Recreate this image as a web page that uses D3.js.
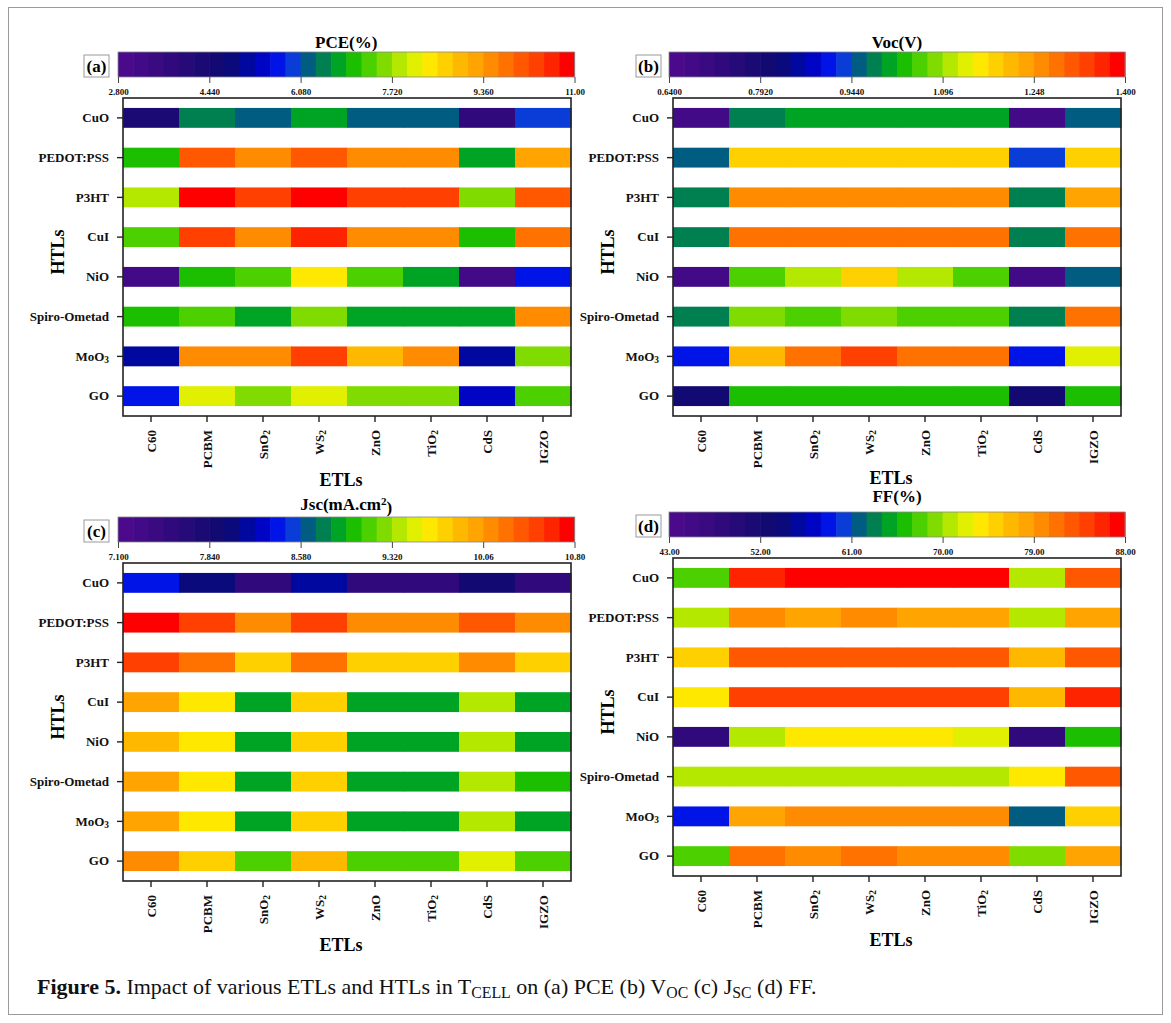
<!DOCTYPE html>
<html><head><meta charset="utf-8">
<script src="https://cdn.jsdelivr.net/npm/d3@7"></script>
<style>
body{margin:0;background:#fff}
svg text{font-family:"Liberation Serif","Times New Roman",serif}
</style>
</head><body>
<svg id="chart" width="1171" height="1023"></svg>
<script>
// ---------- DATA ----------
const htls = ["CuO","PEDOT:PSS","P3HT","CuI","NiO","Spiro-Ometad","MoO3","GO"];
const etls = ["C60","PCBM","SnO2","WS2","ZnO","TiO2","CdS","IGZO"];

// rows follow htls, columns follow etls
const pceValues = [
  [4.30, 6.49, 6.22, 6.76, 6.22, 6.22, 3.76, 5.94],
  [7.04, 10.04, 9.50, 10.04, 9.50, 9.50, 6.76, 9.22],
  [7.86, 10.86, 10.32, 10.86, 10.32, 10.32, 7.58, 10.04],
  [7.31, 10.32, 9.50, 10.59, 9.50, 9.50, 7.04, 9.77],
  [3.21, 7.04, 7.31, 8.40, 7.31, 6.76, 3.21, 5.67],
  [7.04, 7.31, 6.76, 7.58, 6.76, 6.76, 6.76, 9.50],
  [5.12, 9.50, 9.50, 10.32, 8.95, 9.50, 5.12, 7.58],
  [5.67, 8.13, 7.58, 8.13, 7.58, 7.58, 5.40, 7.31]
];
const vocValues = [
  [0.678, 0.982, 1.007, 1.007, 1.007, 1.007, 0.678, 0.957],
  [0.957, 1.185, 1.185, 1.185, 1.185, 1.185, 0.931, 1.185],
  [0.982, 1.261, 1.261, 1.261, 1.261, 1.261, 0.982, 1.235],
  [0.982, 1.286, 1.286, 1.286, 1.286, 1.286, 0.982, 1.286],
  [0.678, 1.058, 1.109, 1.185, 1.109, 1.058, 0.678, 0.957],
  [0.982, 1.083, 1.058, 1.083, 1.058, 1.058, 0.982, 1.286],
  [0.906, 1.210, 1.286, 1.337, 1.286, 1.286, 0.906, 1.134],
  [0.805, 1.033, 1.033, 1.033, 1.033, 1.033, 0.805, 1.033]
];
const jscValues = [
  [8.40, 8.03, 7.53, 8.15, 7.53, 7.53, 7.90, 7.53],
  [10.74, 10.49, 10.12, 10.49, 10.12, 10.12, 10.37, 10.12],
  [10.49, 10.25, 9.75, 10.25, 9.75, 9.75, 10.12, 9.75],
  [10.00, 9.63, 8.89, 9.75, 8.89, 8.89, 9.38, 8.89],
  [9.88, 9.63, 8.89, 9.75, 8.89, 8.89, 9.38, 8.89],
  [10.00, 9.63, 8.89, 9.75, 8.89, 8.89, 9.38, 9.01],
  [10.00, 9.63, 8.89, 9.75, 8.89, 8.89, 9.38, 8.89],
  [10.12, 9.75, 9.14, 9.88, 9.14, 9.14, 9.51, 9.14]
];
const ffValues = [
  [67.8, 85.8, 87.3, 87.3, 87.3, 87.3, 70.8, 82.8],
  [70.8, 79.8, 78.3, 79.8, 78.3, 78.3, 70.8, 78.3],
  [75.3, 82.8, 82.8, 82.8, 82.8, 82.8, 76.8, 82.8],
  [73.8, 84.3, 84.3, 84.3, 84.3, 84.3, 76.8, 85.8],
  [48.3, 70.8, 73.8, 73.8, 73.8, 72.3, 48.3, 66.3],
  [70.8, 70.8, 70.8, 70.8, 70.8, 70.8, 73.8, 82.8],
  [58.8, 78.3, 79.8, 79.8, 79.8, 79.8, 61.8, 75.3],
  [67.8, 81.3, 79.8, 81.3, 79.8, 79.8, 69.3, 78.3]
];

const pceDomain = [2.8, 11.0];
const vocDomain = [0.64, 1.40];
const jscDomain = [7.1, 10.8];
const ffDomain = [43, 88];

const pceTicks = [2.8, 4.44, 6.08, 7.72, 9.36, 11.0];
const pceTickLabels = ["2.800","4.440","6.080","7.720","9.360","11.00"];
const vocTicks = [0.64, 0.792, 0.944, 1.096, 1.248, 1.40];
const vocTickLabels = ["0.6400","0.7920","0.9440","1.096","1.248","1.400"];
const jscTicks = [7.1, 7.84, 8.58, 9.32, 10.06, 10.8];
const jscTickLabels = ["7.100","7.840","8.580","9.320","10.06","10.80"];
const ffTicks = [43, 52, 61, 70, 79, 88];
const ffTickLabels = ["43.00","52.00","61.00","70.00","79.00","88.00"];

const panelLetters = ["(a)","(b)","(c)","(d)"];
const xTitle = "ETLs";
const yTitle = "HTLs";

// 30-level rainbow palette
const palette = [
  "#4b0a8c","#420a86","#3a0a80","#300a7c","#260a78","#1c0a74","#120a72","#0a0a7c",
  "#0008a0","#0004c4","#0014e8","#0a3cd8","#005c80","#008050","#00a424","#1cbe00",
  "#4cd000","#80dc00","#b4e800","#e0f000","#ffe800","#ffd000","#ffb800","#ffa400",
  "#ff8c00","#ff7200","#ff5800","#ff4000","#ff2400","#ff0000"
];

// ---------- LAYOUT ----------
const svg = d3.select("#chart");
const FONT = '"Liberation Serif","Times New Roman",serif';

svg.append("rect").attr("x",8.5).attr("y",7.5).attr("width",1154).attr("height",1007)
  .attr("fill","none").attr("stroke","#9a9a9a").attr("stroke-width",1);

function leftLayout(dy, titleY, etlY){
  return {cbX0:118, cbX1:574.5, cbY:52+dy, cbH:25, boxX:84, boxW:25,
    titleY:titleY, fx0:123, fx1:571, fy0:98+dy, fy1:416+dy, etlY:etlY, htlX:64};
}
function rightLayout(dy, titleY, etlY){
  return {cbX0:669, cbX1:1125, cbY:52+dy, cbH:25, boxX:636, boxW:25,
    titleY:titleY, fx0:673, fx1:1121, fy0:98+dy, fy1:416+dy, etlY:etlY, htlX:614};
}

function subLabel(textSel, label){
  const m = /^([A-Za-z]+)(\d)$/.exec(label);
  textSel.text(null);
  if (m){
    textSel.append("tspan").text(m[1]);
    textSel.append("tspan").attr("dy","0.3em").attr("font-size","0.72em").text(m[2]);
  } else textSel.text(label);
}

function drawPanel(p, L){
  const g = svg.append("g");
  const n = palette.length;
  const color = d3.scaleQuantize().domain(p.domain).range(palette);
  const cb = d3.scaleLinear().domain(p.domain).range([L.cbX0, L.cbX1]);
  const stepV = (p.domain[1]-p.domain[0])/n;
  const bins = d3.range(n).map(i => p.domain[0] + i*stepV);

  // colorbar title
  const t = g.append("text").attr("x",(L.cbX0+L.cbX1)/2).attr("y",L.titleY)
    .attr("text-anchor","middle").attr("font-weight","bold").attr("font-size",17);
  p.title(t);

  // colorbar
  g.selectAll("rect.cb").data(bins).join("rect").attr("class","cb")
    .attr("x", d => cb(d)).attr("y", L.cbY)
    .attr("width", cb(p.domain[0]+stepV)-cb(p.domain[0]) + 0.6).attr("height", L.cbH)
    .attr("fill", d => color(d + stepV/2));
  g.append("rect").attr("x",L.cbX0).attr("y",L.cbY).attr("width",L.cbX1-L.cbX0).attr("height",L.cbH)
    .attr("fill","none").attr("stroke","#888").attr("stroke-width",0.8);
  const cax = g.append("g").attr("transform",`translate(0,${L.cbY+L.cbH})`)
    .call(d3.axisBottom(cb).tickValues(p.ticks).tickFormat((d,i)=>p.tickLabels[i]).tickSize(6).tickPadding(6));
  cax.select(".domain").remove();
  cax.selectAll(".tick line").attr("stroke","#444");
  cax.selectAll("text").attr("font-family",FONT).attr("font-weight","bold").attr("font-size",9).attr("fill","#111");

  // letter box
  g.append("rect").attr("x",L.boxX).attr("y",L.cbY+3).attr("width",L.boxW).attr("height",L.cbH-3)
    .attr("fill","#fff").attr("stroke","#999").attr("stroke-width",1);
  g.append("text").attr("x",L.boxX+L.boxW/2).attr("y",L.cbY+3+(L.cbH-3)/2).attr("dy","0.36em")
    .attr("text-anchor","middle").attr("font-weight","bold").attr("font-size",17).text(p.letter);

  // heatmap
  const x = d3.scaleBand().domain(etls).range([L.fx0, L.fx1]).padding(0);
  const y = d3.scaleBand().domain(htls).range([L.fy0, L.fy1]).paddingInner(0.5).paddingOuter(0.25);
  const cells = [];
  htls.forEach((h,i) => etls.forEach((e,j) => cells.push({h, e, v: p.values[i][j]})));
  g.selectAll("rect.cell").data(cells).join("rect").attr("class","cell")
    .attr("x", d => x(d.e)).attr("y", d => y(d.h))
    .attr("width", x.bandwidth()+0.5).attr("height", y.bandwidth())
    .attr("fill", d => color(d.v));
  g.append("rect").attr("x",L.fx0).attr("y",L.fy0).attr("width",L.fx1-L.fx0).attr("height",L.fy1-L.fy0)
    .attr("fill","none").attr("stroke","#222").attr("stroke-width",1.6);

  // y axis
  const yax = g.append("g").attr("transform",`translate(${L.fx0},0)`)
    .call(d3.axisLeft(y).tickSize(6).tickPadding(8));
  yax.select(".domain").remove();
  yax.selectAll(".tick line").attr("stroke","#222").attr("stroke-width",1.4);
  yax.selectAll(".tick text").attr("font-family",FONT).attr("font-weight","bold").attr("font-size",13).attr("fill","#111")
    .each(function(d){ subLabel(d3.select(this), d); });

  // x axis
  const xax = g.append("g").attr("transform",`translate(0,${L.fy1})`)
    .call(d3.axisBottom(x).tickSize(6));
  xax.select(".domain").remove();
  xax.selectAll(".tick line").attr("stroke","#222").attr("stroke-width",1.4);
  xax.selectAll(".tick text").remove();
  xax.selectAll(".tick").append("text")
    .attr("transform","translate(0,14) rotate(-90)").attr("dy","0.35em")
    .attr("text-anchor","end").attr("font-family",FONT).attr("font-weight","bold").attr("font-size",13).attr("fill","#111")
    .each(function(d){ subLabel(d3.select(this), d); });

  // axis titles
  g.append("text").attr("x",(L.fx0+L.fx1)/2-6).attr("y",L.etlY).attr("text-anchor","middle")
    .attr("font-weight","bold").attr("font-size",18).text(xTitle);
  g.append("text").attr("transform",`translate(${L.htlX},${(L.fy0+L.fy1)/2-5}) rotate(-90)`)
    .attr("text-anchor","middle").attr("font-weight","bold").attr("font-size",18).text(yTitle);
}

const simpleTitle = s => t => t.text(s);

drawPanel({values:pceValues, domain:pceDomain, ticks:pceTicks, tickLabels:pceTickLabels,
  letter:panelLetters[0], title:simpleTitle("PCE(%)")}, leftLayout(0, 48, 486));
drawPanel({values:vocValues, domain:vocDomain, ticks:vocTicks, tickLabels:vocTickLabels,
  letter:panelLetters[1], title:simpleTitle("Voc(V)")}, rightLayout(0, 48, 484));
drawPanel({values:jscValues, domain:jscDomain, ticks:jscTicks, tickLabels:jscTickLabels,
  letter:panelLetters[2], title: t => {
    t.append("tspan").text("Jsc(mA.cm");
    t.append("tspan").attr("dy","-0.45em").attr("font-size","0.65em").text("2");
    t.append("tspan").attr("dy","0.45em").text(")");
  }}, leftLayout(465, 510, 951));
drawPanel({values:ffValues, domain:ffDomain, ticks:ffTicks, tickLabels:ffTickLabels,
  letter:panelLetters[3], title:simpleTitle("FF(%)")}, rightLayout(460, 502, 946));

// caption
const cap = svg.append("text").attr("x",37).attr("y",994).attr("font-size",20).attr("fill","#111");
cap.append("tspan").attr("font-weight","bold").text("Figure 5.");
cap.append("tspan").text(" Impact of various ETLs and HTLs in T");
cap.append("tspan").attr("font-size","0.72em").attr("dy","0.25em").text("CELL");
cap.append("tspan").attr("dy","-0.18em").text(" on (a) PCE (b) V");
cap.append("tspan").attr("font-size","0.72em").attr("dy","0.25em").text("OC");
cap.append("tspan").attr("dy","-0.18em").text(" (c) J");
cap.append("tspan").attr("font-size","0.72em").attr("dy","0.25em").text("SC");
cap.append("tspan").attr("dy","-0.18em").text(" (d) FF.");
const w = cap.node().getComputedTextLength();
if (w > 0) cap.attr("font-size", Math.max(16, Math.min(22, 20*845/w)));
</script>
</body></html>
